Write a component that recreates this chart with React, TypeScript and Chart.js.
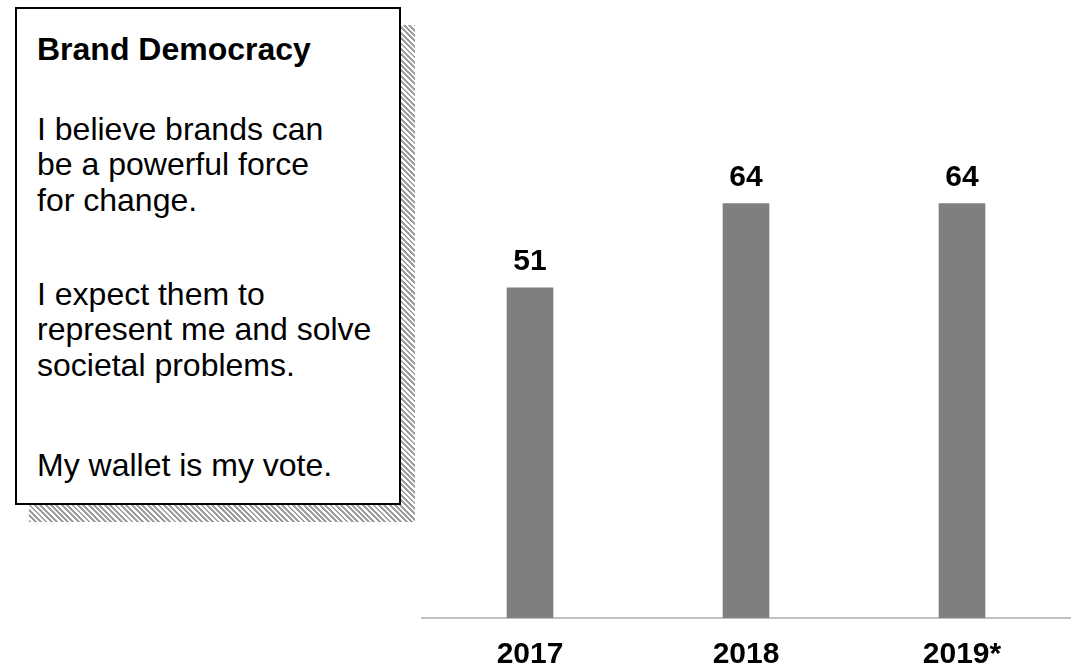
import React, { useEffect, useRef } from "react";
import { Chart, registerables } from "chart.js";

Chart.register(...registerables);

const categories = ["2017", "2018", "2019*"];
const values = [51, 64, 64];
const boxTitle = "Brand Democracy";
const boxLines = [
  "I believe brands can",
  "be a powerful force",
  "for change.",
  "I expect them to",
  "represent me and solve",
  "societal problems.",
  "My wallet is my vote.",
];
// vertical placement (line tops) for the lines in the box
const boxLineTops = [112, 147, 182.5, 277, 312, 347.5, 448];

const FONT = "'Liberation Sans', Arial, Helvetica, sans-serif";

const valueLabelPlugin = {
  id: "valueLabels",
  afterDatasetsDraw(chart: any) {
    const ctx = chart.ctx;
    const meta = chart.getDatasetMeta(0);
    ctx.save();
    ctx.fillStyle = "#000";
    ctx.font = `bold 30px ${FONT}`;
    ctx.textAlign = "center";
    ctx.textBaseline = "alphabetic";
    meta.data.forEach((bar: any, i: number) => {
      ctx.fillText(String(chart.data.datasets[0].data[i]), bar.x, bar.y - 18);
    });
    ctx.restore();
  },
};

export default function App() {
  const ref = useRef<HTMLCanvasElement>(null);

  useEffect(() => {
    if (!ref.current) return;
    const chart = new Chart(ref.current, {
      type: "bar",
      data: {
        labels: categories,
        datasets: [
          {
            data: values,
            backgroundColor: "#7f7f7f",
            borderWidth: 0,
            barThickness: 46,
          },
        ],
      },
      options: {
        animation: false,
        responsive: false,
        layout: { padding: { left: 422, right: 7, top: 100, bottom: 0 } },
        plugins: { legend: { display: false }, tooltip: { enabled: false } },
        scales: {
          x: {
            grid: { display: false, drawTicks: false },
            border: { display: true, color: "#c0c0c0", width: 2 },
            ticks: {
              color: "#000",
              padding: 19,
              font: { family: FONT, size: 30, weight: "bold" },
            },
            afterFit: (s: any) => {
              s.height = 50;
            },
          },
          y: { display: false, min: 0, max: 80 },
        },
      },
      plugins: [valueLabelPlugin],
    });
    return () => chart.destroy();
  }, []);

  const textBase: React.CSSProperties = {
    position: "absolute",
    left: 20,
    fontFamily: FONT,
    fontSize: 32,
    lineHeight: "35.5px",
    color: "#000",
    whiteSpace: "nowrap",
  };

  return (
    <div
      style={{
        position: "fixed",
        left: 0,
        top: 0,
        width: 1077,
        height: 668,
        background: "#fff",
        overflow: "hidden",
      }}
    >
      <canvas
        ref={ref}
        width={1077}
        height={668}
        style={{ position: "absolute", left: 0, top: 0, width: 1077, height: 668 }}
      />
      <div
        style={{
          position: "absolute",
          left: 29,
          top: 25,
          width: 386,
          height: 497,
          background:
            "repeating-linear-gradient(45deg, #a0a0a0 0px, #a0a0a0 2px, #ffffff 2px, #ffffff 3.8px)",
        }}
      />
      <div
        style={{
          position: "absolute",
          left: 15,
          top: 7,
          width: 382,
          height: 494,
          border: "2px solid #000",
          background: "#fff",
        }}
      >
        <div style={{ ...textBase, top: 32 - 9, fontWeight: "bold" }}>{boxTitle}</div>
        {boxLines.map((t, i) => (
          <div key={i} style={{ ...textBase, top: boxLineTops[i] - 9 }}>
            {t}
          </div>
        ))}
      </div>
    </div>
  );
}
